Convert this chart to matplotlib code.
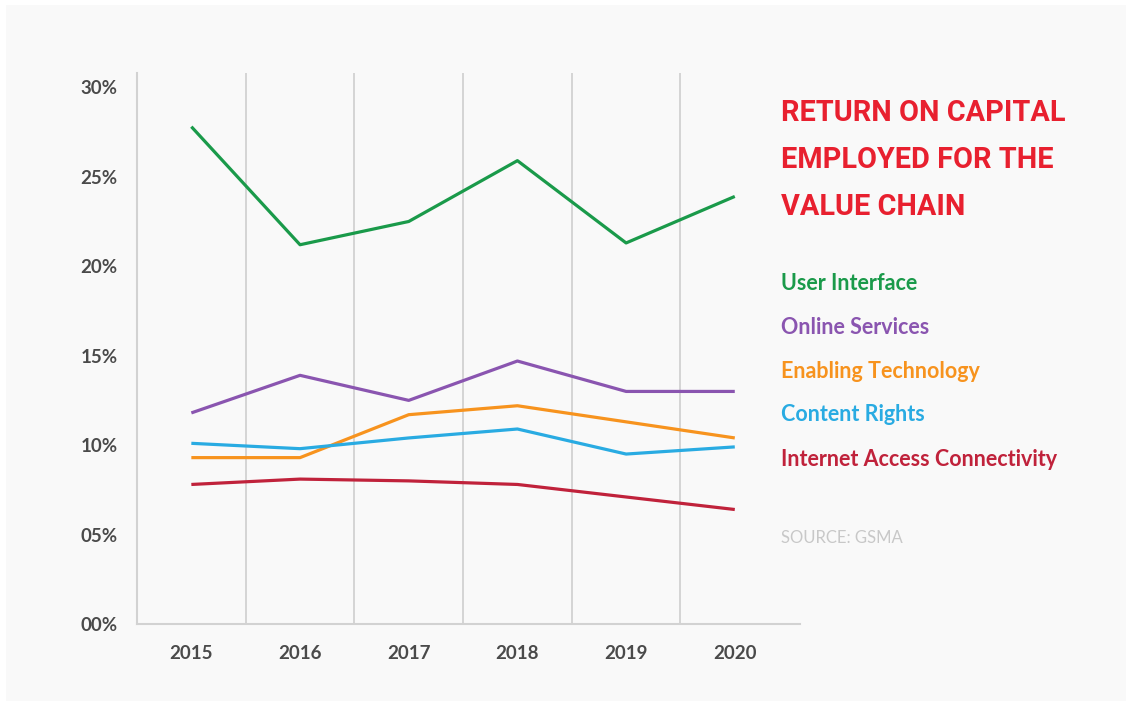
import matplotlib
matplotlib.use("Agg")
import matplotlib.pyplot as plt
from matplotlib.patches import Rectangle

years = ["2015", "2016", "2017", "2018", "2019", "2020"]
series_names = ["User Interface", "Online Services", "Enabling Technology",
                "Content Rights", "Internet Access Connectivity"]
user_interface = [27.8, 21.2, 22.5, 25.9, 21.3, 23.9]
online_services = [11.8, 13.9, 12.5, 14.7, 13.0, 13.0]
enabling_technology = [9.3, 9.3, 11.7, 12.2, 11.3, 10.4]
content_rights = [10.1, 9.8, 10.4, 10.9, 9.5, 9.9]
internet_access = [7.8, 8.1, 8.0, 7.8, 7.1, 6.4]
y_ticks = [0, 5, 10, 15, 20, 25, 30]
y_tick_labels = ["00%", "05%", "10%", "15%", "20%", "25%", "30%"]
title_lines = ["RETURN ON CAPITAL", "EMPLOYED FOR THE", "VALUE CHAIN"]
source_text = "SOURCE: GSMA"

colors = ["#1a9a4a", "#8a55b0", "#f7931e", "#29abe2", "#c0223b"]
values = [user_interface, online_services, enabling_technology,
          content_rights, internet_access]

FONT = ["Lato", "DejaVu Sans"]

fig = plt.figure(figsize=(11.32, 7.07), dpi=100)
fig.patch.set_facecolor("white")
bg = Rectangle((6 / 1132, 1 - 701 / 707), (1126 - 6) / 1132, (701 - 5) / 707,
               transform=fig.transFigure, facecolor="#f9f9f9",
               edgecolor="none", zorder=-10)
fig.patches.append(bg)

ax = fig.add_axes([137 / 1132, 1 - 624 / 707, (800 - 137) / 1132, (624 - 73) / 707])
ax.set_facecolor("none")
ax.set_zorder(1)

x = list(range(len(years)))
for vals, c in zip(values, colors):
    ax.plot(x, vals, color=c, lw=2.3, solid_capstyle="butt", zorder=3)

for gx in [0.5, 1.5, 2.5, 3.5, 4.5]:
    ax.axvline(gx, color="#d2d2d2", lw=1.3, zorder=1)

ax.set_xlim(-0.5, 5.6)
ax.set_ylim(0, 30.8)
ax.set_xticks(x)
ax.set_xticklabels(years)
ax.set_yticks(y_ticks)
ax.set_yticklabels(y_tick_labels)
ax.tick_params(length=0, labelsize=13.5, labelcolor="#4a4a4a")
ax.tick_params(axis="x", pad=15)
ax.tick_params(axis="y", pad=14)
for lbl in ax.get_xticklabels() + ax.get_yticklabels():
    lbl.set_family(FONT)
    lbl.set_fontweight("bold")

for s in ["top", "right"]:
    ax.spines[s].set_visible(False)
for s in ["left", "bottom"]:
    ax.spines[s].set_color("#d2d2d2")
    ax.spines[s].set_linewidth(1.5)

# Title
title_y = [113, 160, 207]
for line, yy in zip(title_lines, title_y):
    fig.text(781 / 1132, 1 - yy / 707, line, color="#e8202f", fontsize=20.8,
             fontweight="bold", family=["Roboto", "DejaVu Sans"], va="center", ha="left")

legend_y = [284, 327, 372, 415, 460]
for name, c, yy in zip(series_names, colors, legend_y):
    fig.text(781 / 1132, 1 - yy / 707, name, color=c, fontsize=15.5,
             fontweight="bold", family=FONT, va="center", ha="left")

fig.text(781 / 1132, 1 - 538 / 707, source_text, color="#c8c8c8", fontsize=12,
         family=FONT, va="center", ha="left")

fig.savefig("out.png", dpi=100, facecolor=fig.get_facecolor())
